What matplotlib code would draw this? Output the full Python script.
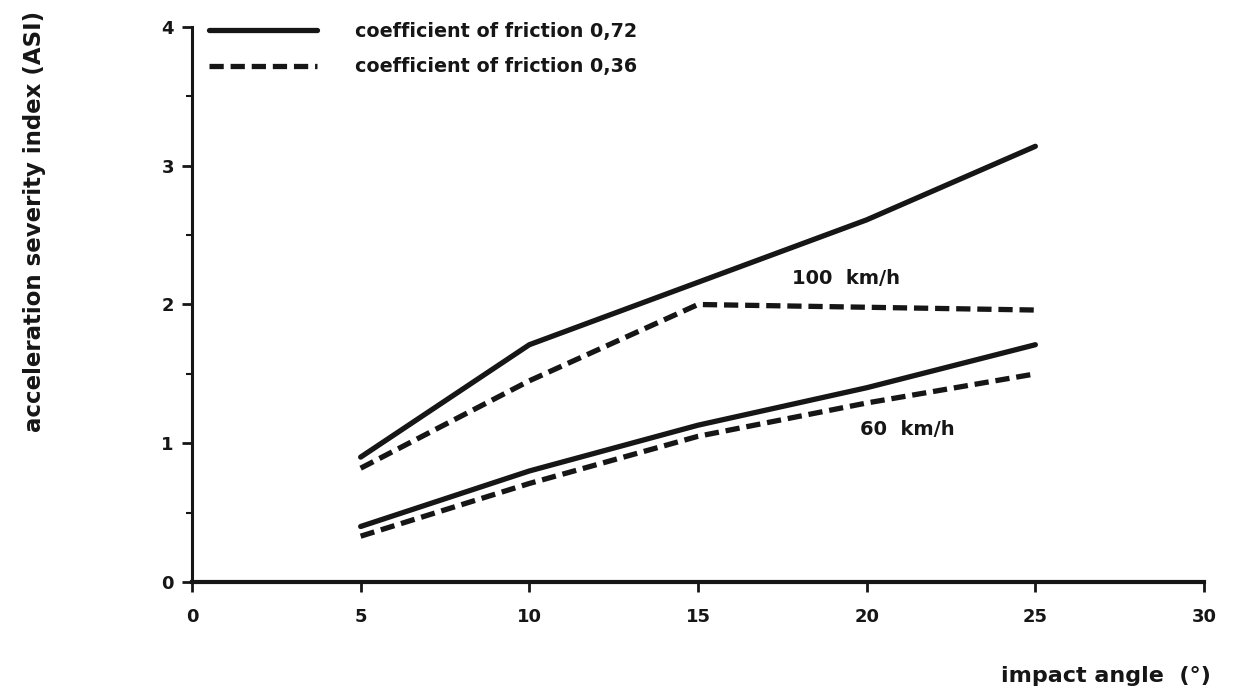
import matplotlib.pyplot as plt
from matplotlib.ticker import MultipleLocator

plt.rcParams['font.family'] = ['DejaVu Sans']
plt.rcParams['font.weight'] = 'bold'

# impact angle (deg)
angle = [5, 10, 15, 20, 25]

# acceleration severity index
asi_100_072 = [0.90, 1.71, 2.16, 2.61, 3.14]
asi_100_036 = [0.82, 1.45, 2.00, 1.98, 1.96]
asi_60_072 = [0.40, 0.80, 1.13, 1.40, 1.71]
asi_60_036 = [0.33, 0.71, 1.05, 1.29, 1.50]

labels = ['coefficient of friction 0,72', 'coefficient of friction 0,36']

ink = '#161616'
dash = (2.7, 1.3)

fig = plt.figure(figsize=(12.33, 6.99), dpi=100)
ax = fig.add_axes([0.1557, 0.1674, 0.8208, 0.794])

l1, = ax.plot(angle, asi_100_072, color=ink, linewidth=3.8, solid_capstyle='round')
l2, = ax.plot(angle, asi_100_036, color=ink, linewidth=3.8, dashes=dash)
ax.plot(angle, asi_60_072, color=ink, linewidth=3.8, solid_capstyle='round')
ax.plot(angle, asi_60_036, color=ink, linewidth=3.8, dashes=dash)

ax.text(19.4, 2.19, '100  km/h', ha='center', va='center', fontsize=14, color=ink)
ax.text(21.2, 1.10, '60  km/h', ha='center', va='center', fontsize=14, color=ink)

leg = ax.legend([l1, l2], labels, loc='upper left', bbox_to_anchor=(0.0, 1.04),
                frameon=False, fontsize=13.8, handlelength=5.6, handletextpad=2.0,
                labelspacing=0.85, borderaxespad=0.5)
for t in leg.get_texts():
    t.set_color(ink)

ax.set_xlim(0, 30)
ax.set_ylim(0, 4)
ax.xaxis.set_major_locator(MultipleLocator(5))
ax.yaxis.set_major_locator(MultipleLocator(1))
ax.yaxis.set_minor_locator(MultipleLocator(0.5))

for s in ['top', 'right']:
    ax.spines[s].set_visible(False)
ax.spines['bottom'].set_linewidth(3.0)
ax.spines['left'].set_linewidth(2.2)
ax.spines['bottom'].set_color(ink)
ax.spines['left'].set_color(ink)

ax.tick_params(axis='both', which='major', direction='out', length=7, width=2,
               color=ink, labelsize=13, labelcolor=ink)
ax.tick_params(axis='x', which='major', pad=12)
ax.tick_params(axis='y', which='major', pad=6)
ax.tick_params(axis='y', which='minor', direction='out', length=4, width=1.5, color=ink)

fig.text(0.028, 0.683, 'acceleration severity index (ASI)', rotation=90,
         ha='center', va='center', fontsize=16.5, color=ink)
fig.text(0.982, 0.018, 'impact angle  (°)', ha='right', va='bottom',
         fontsize=16, color=ink)

fig.savefig('out.png', dpi=100, facecolor='white')
